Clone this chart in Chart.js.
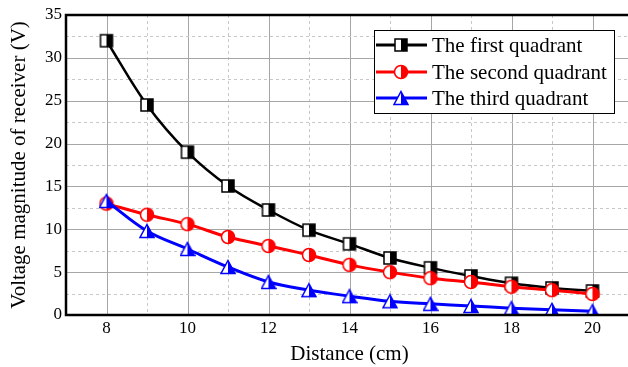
<!DOCTYPE html>
<html>
<head>
<meta charset="utf-8">
<script src="https://cdn.jsdelivr.net/npm/chart.js@4.4.1/dist/chart.umd.min.js"></script>
<style>
  html, body { margin: 0; padding: 0; background: #fff; overflow: hidden; }
  #wrap { width: 640px; height: 367px; }
</style>
</head>
<body>
<div id="wrap"><canvas id="chart"></canvas></div>
<script>
// data
const distances = [8, 9, 10, 11, 12, 13, 14, 15, 16, 17, 18, 19, 20];
const firstQuadrant  = [32.0, 24.5, 19.0, 15.05, 12.25, 9.9, 8.3, 6.65, 5.5, 4.55, 3.7, 3.15, 2.8];
const secondQuadrant = [13.0, 11.7, 10.6, 9.1, 8.05, 7.0, 5.85, 5.0, 4.3, 3.85, 3.3, 2.9, 2.45];
const thirdQuadrant  = [13.3, 9.8, 7.7, 5.6, 3.85, 2.9, 2.2, 1.6, 1.3, 1.05, 0.8, 0.6, 0.45];
const seriesNames = ['The first quadrant', 'The second quadrant', 'The third quadrant'];
const seriesColors = ['#000000', '#ff0000', '#0000ff'];

const FONT = "'Liberation Serif', 'Times New Roman', serif";

// half filled markers
function makeMarker(shape, color) {
    const s = 16;
    const c = document.createElement('canvas');
    c.width = s; c.height = s;
    const g = c.getContext('2d');
    const path = () => {
        g.beginPath();
        if (shape === 'square') {
            g.rect(2, 2, 12, 12);
        } else if (shape === 'circle') {
            g.arc(8, 8, 6.5, 0, Math.PI * 2);
        } else {
            g.moveTo(8, 1.5); g.lineTo(15, 14.5); g.lineTo(1, 14.5); g.closePath();
        }
    };
    path();
    g.fillStyle = '#fff'; g.fill();
    g.save();
    path(); g.clip();
    g.fillStyle = color;
    g.fillRect(8, 0, 8, 16);
    g.restore();
    path();
    g.lineWidth = 1.5; g.strokeStyle = color; g.stroke();
    return c;
}
const markers = [
    makeMarker('square', '#000000'),
    makeMarker('circle', '#ff0000'),
    makeMarker('triangle', '#0000ff')
];

const toPoints = arr => arr.map((v, i) => ({ x: distances[i], y: v }));

const gridPlugin = {
    id: 'gridPlugin',
    beforeDatasetsDraw(chart) {
        const { ctx, chartArea: a, scales: { x, y } } = chart;
        ctx.save();
        x.ticks.forEach(t => {
            const px = Math.round(x.getPixelForValue(t.value)) + 0.5;
            const major = t.value % 2 === 0;
            ctx.beginPath();
            ctx.setLineDash(major ? [] : [3, 3]);
            ctx.strokeStyle = major ? '#a6a6a6' : '#c8c8c8';
            ctx.lineWidth = 1;
            ctx.moveTo(px, a.top); ctx.lineTo(px, a.bottom);
            ctx.stroke();
        });
        y.ticks.forEach(t => {
            const py = Math.round(y.getPixelForValue(t.value)) + 0.5;
            const major = t.value % 5 === 0;
            ctx.beginPath();
            ctx.setLineDash(major ? [] : [3, 3]);
            ctx.strokeStyle = major ? '#a6a6a6' : '#c8c8c8';
            ctx.lineWidth = 1;
            ctx.moveTo(a.left, py); ctx.lineTo(a.right, py);
            ctx.stroke();
        });
        ctx.restore();
    },
    afterDraw(chart) {
        const { ctx, chartArea: a } = chart;
        ctx.save();
        // frame
        ctx.strokeStyle = '#000';
        ctx.lineWidth = 2.5;
        ctx.strokeRect(a.left, a.top, a.right - a.left, a.bottom - a.top);

        // legend
        const bx = 374.5, by = 30.5, bw = 240, bh = 83;
        ctx.fillStyle = '#fff';
        ctx.fillRect(bx, by, bw, bh);
        ctx.lineWidth = 1;
        ctx.strokeRect(bx, by, bw, bh);
        const rows = [45, 72, 98];
        ctx.font = '21px ' + FONT;
        ctx.textBaseline = 'middle';
        seriesNames.forEach((name, i) => {
            ctx.beginPath();
            ctx.strokeStyle = seriesColors[i];
            ctx.lineWidth = 3;
            ctx.moveTo(376, rows[i]); ctx.lineTo(427, rows[i]);
            ctx.stroke();
            ctx.drawImage(markers[i], 401 - 8, rows[i] - 8);
            ctx.fillStyle = '#000';
            ctx.fillText(name, 432, rows[i] + 1);
        });
        ctx.restore();
    }
};

new Chart(document.getElementById('chart'), {
    type: 'line',
    data: {
        datasets: [firstQuadrant, secondQuadrant, thirdQuadrant].map((vals, i) => ({
            label: seriesNames[i],
            data: toPoints(vals),
            borderColor: seriesColors[i],
            backgroundColor: seriesColors[i],
            borderWidth: i === 0 ? 2.5 : 3,
            pointStyle: markers[i],
            tension: 0.35,
            order: 3 - i
        }))
    },
    options: {
        responsive: true,
        maintainAspectRatio: false,
        animation: false,
        layout: { padding: { top: 15, right: 7, left: 0, bottom: 0 } },
        plugins: { legend: { display: false }, tooltip: { enabled: false } },
        scales: {
            x: {
                type: 'linear',
                min: 7, max: 21,
                grid: { display: false, drawTicks: false },
                border: { display: false },
                ticks: {
                    stepSize: 1, autoSkip: false, maxRotation: 0,
                    padding: 3,
                    color: '#000',
                    font: { family: FONT, size: 17 },
                    callback: v => (v % 2 === 0 ? v : '')
                },
                title: {
                    display: true, text: 'Distance (cm)', color: '#000',
                    font: { family: FONT, size: 21 }, padding: { top: 0, bottom: 0 }
                },
                afterFit: s => { s.height = 52; }
            },
            y: {
                min: 0, max: 35,
                grid: { display: false, drawTicks: false },
                border: { display: false },
                ticks: {
                    stepSize: 2.5, autoSkip: false,
                    padding: 4,
                    color: '#000',
                    font: { family: FONT, size: 17 },
                    callback: v => (v % 5 === 0 ? v : '')
                },
                title: {
                    display: true, text: 'Voltage magnitude of receiver (V)', color: '#000',
                    font: { family: FONT, size: 21 }, padding: { top: 7, bottom: 0 }
                },
                afterFit: s => { s.width = 66; }
            }
        }
    },
    plugins: [gridPlugin]
});
</script>
</body>
</html>
